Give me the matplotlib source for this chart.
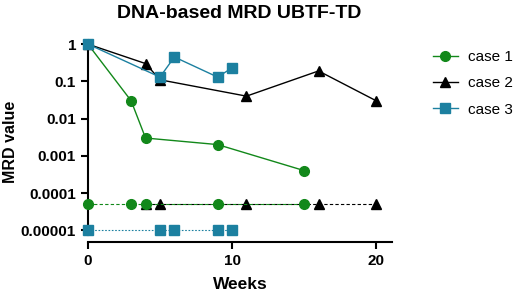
import matplotlib
matplotlib.use("Agg")
import matplotlib.pyplot as plt
from matplotlib.ticker import FixedLocator, NullLocator

plt.rcParams['font.family'] = ['Liberation Sans', 'DejaVu Sans']

# Data
case1_weeks = [0, 3, 4, 9, 15]
case1_mrd = [1, 0.03, 0.003, 0.002, 0.0004]
case1_neg_weeks = [0, 3, 4, 9, 15]
case2_weeks = [0, 4, 5, 11, 16, 20]
case2_mrd = [1, 0.3, 0.11, 0.04, 0.19, 0.03]
case2_neg_weeks = [4, 5, 11, 16, 20]
case3_weeks = [0, 5, 6, 9, 10]
case3_mrd = [1, 0.13, 0.45, 0.13, 0.23]
case3_neg_weeks = [0, 5, 6, 9, 10]
neg_level_12 = 0.00005
neg_level_3 = 0.00001

y_ticks = [1, 0.1, 0.01, 0.001, 0.0001, 0.00001]
y_tick_labels = ['1', '0.1', '0.01', '0.001', '0.0001', '0.00001']
x_ticks = [0, 10, 20]

green = '#12881a'
black = '#000000'
teal = '#1c80a0'

fig = plt.figure(figsize=(5.2, 2.94), dpi=100)
ax = fig.add_axes([0.169, 0.201, 0.585, 0.649])

# negatives (dashed)
ax.plot(case2_neg_weeks, [neg_level_12] * len(case2_neg_weeks), color=black, lw=0.8,
        ls=(0, (3, 2)), marker='^', ms=6.5, clip_on=False, zorder=3)
ax.plot(case1_neg_weeks, [neg_level_12] * len(case1_neg_weeks), color=green, lw=0.8,
        ls=(0, (3, 2)), marker='o', ms=7, clip_on=False, zorder=3)
ax.plot(case3_neg_weeks, [neg_level_3] * len(case3_neg_weeks), color=teal, lw=0.8,
        ls=(0, (1.5, 1.5)), marker='s', ms=6.5, clip_on=False, zorder=3)

# positive series
ax.plot(case1_weeks, case1_mrd, color=green, lw=1.0, marker='o', ms=7,
        clip_on=False, zorder=4, label='case 1')
ax.plot(case2_weeks, case2_mrd, color=black, lw=1.0, marker='^', ms=6.5,
        clip_on=False, zorder=4, label='case 2')
ax.plot(case3_weeks, case3_mrd, color=teal, lw=1.0, marker='s', ms=6.5,
        clip_on=False, zorder=5, label='case 3')

ax.set_yscale('log')
ax.set_ylim(7.5e-6, 1)
ax.set_xlim(0, 21.1)
ax.yaxis.set_major_locator(FixedLocator(y_ticks))
ax.yaxis.set_minor_locator(NullLocator())
ax.set_yticklabels(y_tick_labels)
ax.set_xticks(x_ticks)

for s in ['top', 'right']:
    ax.spines[s].set_visible(False)
ax.spines['left'].set_linewidth(1.5)
ax.spines['bottom'].set_linewidth(1.5)
ax.spines['bottom'].set_position(('outward', 5))
ax.tick_params(axis='both', width=1.5, length=5, labelsize=11)
for lab in ax.get_xticklabels() + ax.get_yticklabels():
    lab.set_fontweight('bold')

ax.set_xlabel('Weeks', fontsize=12.5, fontweight='bold', labelpad=7)
ax.set_ylabel('MRD value', fontsize=11.5, fontweight='bold')
ax.yaxis.set_label_coords(-0.23, 0.49)
fig.text(0.46, 0.955, 'DNA-based MRD UBTF-TD', ha='center', va='center',
         fontsize=14, fontweight='bold')

leg = ax.legend(loc='upper left', bbox_to_anchor=(1.09, 1.04), frameon=False,
                fontsize=11, handlelength=1.6, labelspacing=0.8, handletextpad=0.7)

fig.savefig('out.png', dpi=100)
